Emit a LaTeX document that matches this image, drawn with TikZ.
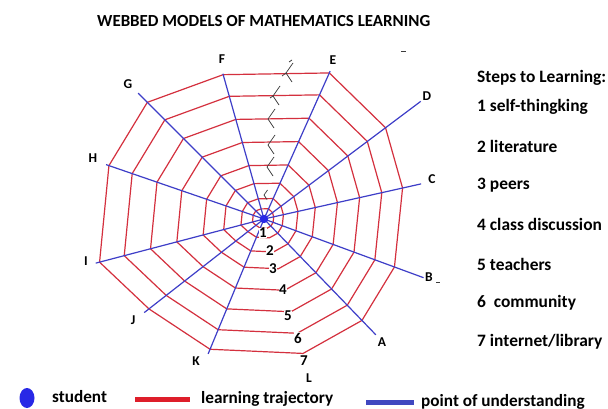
\documentclass[tikz,border=0pt]{standalone}
\usepackage{fontspec}
\setmainfont{Carlito}
\usetikzlibrary{calc}
\definecolor{webred}{RGB}{212,48,62}
\definecolor{webblue}{RGB}{62,62,200}
\definecolor{dotblue}{RGB}{40,40,230}
\definecolor{legred}{RGB}{222,30,42}
\definecolor{legblue}{RGB}{64,72,192}
\definecolor{markgray}{RGB}{60,60,60}
\tikzset{
  ring/.style={draw=webred, line width=1.2pt, line join=miter},
  spoke/.style={draw=webblue, line width=1.2pt},
  letter/.style={font=\bfseries\fontsize{13.5}{14}\selectfont, inner sep=0pt},
  num/.style={font=\bfseries\fontsize{15}{16}\selectfont, fill=white, inner sep=0.5pt},
  steptext/.style={font=\bfseries\fontsize{17.4}{19}\selectfont, anchor=west, inner sep=0pt},
  legtext/.style={font=\bfseries\fontsize{17.2}{19}\selectfont, anchor=west, inner sep=0pt},
  spider/.style={draw=markgray, line width=0.7pt},
}
\begin{document}
\begin{tikzpicture}[x=1pt,y=-1pt]
\useasboundingbox (0,0) rectangle (608,409);
\fill[white] (0,0) rectangle (608,409);
% title
\node[font=\bfseries\fontsize{16.9}{19}\selectfont, anchor=west, inner sep=0pt] (title) at (97,21) {WEBBED MODELS OF MATHEMATICS LEARNING};
% centre
\coordinate (O) at (264,219);
% directions: name / angle / outer radius / spoke length
\foreach \n/\a/\R/\s in {A/-46/141/161, B/-20.2/139/170, C/12.6/142/161, D/36.9/152/196,
    E/65.9/160/162, F/105.8/150/151, G/135/165/178, H/161/164/167, I/194.7/170/174,
    J/218/146/152, K/247.5/141/146, L/286.2/140/0} {
  \coordinate (S\n) at ($(O)+({\s*cos(\a)},{-\s*sin(\a)})$);
  \foreach \k/\f in {1/1,2/0.85,3/0.69,4/0.53,5/0.37,6/0.245,7/0.14,8/0.07} {
    \coordinate (R\n\k) at ($(O)+({\f*\R*cos(\a)},{-\f*\R*sin(\a)})$);
  }
}
% rings
\foreach \k in {1,...,8} {
  \draw[ring] (RA\k) -- (RB\k) -- (RC\k) -- (RD\k) -- (RE\k) -- (RF\k) -- (RG\k)
     -- (RH\k) -- (RI\k) -- (RJ\k) -- (RK\k) -- (RL\k) -- cycle;
}
% spokes
\foreach \n in {A,B,C,D,E,F,G,H,I,J,K} {
  \draw[spoke] (O) -- (S\n);
}
% student dot
\fill[dotblue] (O) circle (4.2);
% spider marks
\foreach \x/\y/\sc in {286/73/1, 273/96/1, 268/119/1, 268/145/1, 267/167/1, 264/195/0.5} {
  \draw[spider] (\x+7*\sc,\y-10*\sc) -- (\x,\y) -- (\x+6*\sc,\y+9*\sc);
}
\draw[spider] (286,73) -- (282,76);
\draw[spider] (289,62) -- (292,60);
\draw[spider] (273,96) -- (270,98);
% small dashes
\draw[markgray, line width=0.8pt] (401,51) -- (406,51);
\draw[markgray, line width=0.8pt] (436,282) -- (440,282);
% letters
\node[letter] (lA) at (382,342) {A};
\node[letter] (lB) at (429,277) {B};
\node[letter] (lC) at (432,179) {C};
\node[letter] (lD) at (427,96) {D};
\node[letter] (lE) at (333,60) {E};
\node[letter] (lF) at (222,59) {F};
\node[letter] (lG) at (128,84) {G};
\node[letter] (lH) at (93,158) {H};
\node[letter] (lI) at (86,261) {I};
\node[letter] (lJ) at (133,320) {J};
\node[letter] (lK) at (196,361) {K};
\node[letter] (lL) at (309,378) {L};
% numbers
\node[num] (n1) at (263,233) {1};
\node[num] (n2) at (270,251) {2};
\node[num] (n3) at (273,269) {3};
\node[num] (n4) at (283,290) {4};
\node[num] (n5) at (288,316) {5};
\node[num] (n6) at (298,338) {6};
\node[num] (n7) at (304,361) {7};
% steps legend
\node[steptext] (st0) at (477,78) {Steps to Learning:};
\node[steptext] (st1) at (477,107) {1 self-thingking};
\node[steptext] (st2) at (477,146) {2 literature};
\node[steptext] (st3) at (477,185) {3 peers};
\node[steptext] (st4) at (477,224) {4 class discussion};
\node[steptext] (st5) at (477,264) {5 teachers};
\node[steptext] (st6) at (477,303) {6\ \ community};
\node[steptext] (st7) at (477,342) {7 internet/library};
% bottom legend
\fill[dotblue] (27,398) ellipse (7.5 and 10);
\node[legtext] (lg1) at (52,397) {student};
\draw[legred, line width=5pt] (135,399) -- (190,399);
\node[legtext] (lg2) at (201,399) {learning trajectory};
\draw[legblue, line width=5pt] (366,402) -- (414,402);
\node[legtext] (lg3) at (421,401.5) {point of understanding};
\end{tikzpicture}
\end{document}
